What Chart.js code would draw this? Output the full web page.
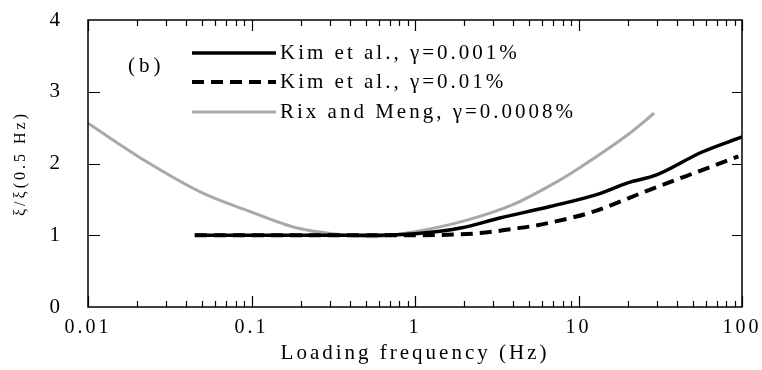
<!DOCTYPE html>
<html>
<head>
<meta charset="utf-8">
<script src="https://cdn.jsdelivr.net/npm/chart.js@4/dist/chart.umd.min.js"></script>
<style>
  html, body { margin: 0; padding: 0; background: #fff; }
  #wrap { width: 762px; height: 370px; }
</style>
</head>
<body>
<div id="wrap"><canvas id="chart" width="762" height="370"></canvas></div>
<script>
// tick marks and labels
const xTickValues = [0.01, 0.1, 1, 10, 100];
const xTickLabels = ['0.01', '0.1', '1', '10', '100'];
const yTickValues = [0, 1, 2, 3, 4];

// Kim et al., gamma = 0.001 %
const kimLowFreq = [0.045, 0.1, 0.3, 0.6, 1.0, 1.9, 3.3, 6.7, 13.5, 20, 30, 57, 100];
const kimLowRatio = [1.0, 1.0, 1.0, 1.0, 1.02, 1.10, 1.24, 1.40, 1.58, 1.73, 1.84, 2.16, 2.37];

// Kim et al., gamma = 0.01 %
const kimHighFreq = [0.045, 0.1, 0.3, 1.0, 2.5, 4.0, 5.3, 9.3, 12, 27, 62, 95];
const kimHighRatio = [1.0, 1.0, 1.0, 1.0, 1.03, 1.09, 1.13, 1.25, 1.32, 1.63, 1.94, 2.10];

// Rix and Meng, gamma = 0.0008 %
const rixFreq = [0.01, 0.023, 0.05, 0.093, 0.19, 0.38, 0.55, 1.0, 2.0, 4.0, 7.7, 10, 20, 29];
const rixRatio = [2.56, 2.02, 1.59, 1.35, 1.10, 1.00, 0.98, 1.05, 1.20, 1.43, 1.77, 1.93, 2.40, 2.70];

const seriesLabels = ['Kim et al., γ=0.001%', 'Kim et al., γ=0.01%', 'Rix and Meng, γ=0.0008%'];

const FONT = '"Liberation Serif", "DejaVu Serif", serif';

function toPoints(xs, ys) {
    return xs.map((x, i) => ({ x: x, y: ys[i] }));
}

// frame round the plot with ticks pointing inward
const framePlugin = {
    id: 'frame',
    beforeDraw(chart) {
        chart.ctx.letterSpacing = '3px';
    },
    afterDatasetsDraw(chart) {
        const { ctx, chartArea: a, scales } = chart;
        ctx.save();
        ctx.strokeStyle = '#000';
        ctx.lineWidth = 1.5;
        ctx.strokeRect(a.left, a.top, a.right - a.left, a.bottom - a.top);
        ctx.lineWidth = 1.2;
        ctx.beginPath();
        for (let d = 0.01; d < 100; d *= 10) {
            for (let m = 1; m <= 10; m++) {
                const x = Math.round(scales.x.getPixelForValue(d * m)) + 0.5;
                const len = (m === 1 || m === 10) ? 11 : 6;
                ctx.moveTo(x, a.bottom); ctx.lineTo(x, a.bottom - len);
                ctx.moveTo(x, a.top); ctx.lineTo(x, a.top + len);
            }
        }
        [1, 2, 3].forEach(v => {
            const y = Math.round(scales.y.getPixelForValue(v)) + 0.5;
            ctx.moveTo(a.left, y); ctx.lineTo(a.left + 12, y);
            ctx.moveTo(a.right, y); ctx.lineTo(a.right - 10, y);
        });
        ctx.stroke();
        ctx.restore();
    },
    afterDraw(chart) {
        const ctx = chart.ctx;
        ctx.save();
        ctx.fillStyle = '#000';
        ctx.textBaseline = 'middle';
        ctx.textAlign = 'left';
        ctx.font = '21px ' + FONT;
        ctx.letterSpacing = '4px';
        ctx.fillText('(b)', 128, 66);
        const rows = [53, 82, 112];
        chart.data.datasets.forEach((ds, i) => {
            const y = rows[i];
            ctx.save();
            ctx.strokeStyle = ds.borderColor;
            ctx.lineWidth = ds.borderWidth;
            ctx.setLineDash(ds.borderDash || []);
            ctx.beginPath();
            ctx.moveTo(192, y);
            ctx.lineTo(276, y);
            ctx.stroke();
            ctx.restore();
            ctx.letterSpacing = '3px';
            ctx.fillText(ds.label, 280, y);
        });
        ctx.restore();
    }
};

const chart = new Chart(document.getElementById('chart'), {
    type: 'line',
    data: {
        datasets: [
            {
                label: seriesLabels[0],
                data: toPoints(kimLowFreq, kimLowRatio),
                borderColor: '#000',
                borderWidth: 3.5,
                order: 1
            },
            {
                label: seriesLabels[1],
                data: toPoints(kimHighFreq, kimHighRatio),
                borderColor: '#000',
                borderWidth: 4,
                borderDash: [12, 7],
                order: 2
            },
            {
                label: seriesLabels[2],
                data: toPoints(rixFreq, rixRatio),
                borderColor: '#a9a9a9',
                borderWidth: 3,
                order: 3
            }
        ]
    },
    options: {
        responsive: false,
        animation: false,
        devicePixelRatio: 1,
        elements: {
            point: { radius: 0 },
            line: { fill: false, cubicInterpolationMode: 'monotone', borderCapStyle: 'butt' }
        },
        layout: { padding: { top: 20, right: 20, left: 0, bottom: 0 } },
        plugins: { legend: { display: false }, tooltip: { enabled: false } },
        scales: {
            x: {
                type: 'logarithmic',
                min: 0.01,
                max: 100,
                grid: { display: false, drawTicks: false },
                border: { display: false },
                afterBuildTicks: s => { s.ticks = xTickValues.map(v => ({ value: v })); },
                afterFit: s => { s.height = 63; s.paddingLeft = 0; s.paddingRight = 0; },
                ticks: {
                    autoSkip: false,
                    maxRotation: 0,
                    padding: 9,
                    color: '#000',
                    font: { family: FONT, size: 20 },
                    callback: v => {
                        const i = xTickValues.indexOf(v);
                        return i < 0 ? '' : xTickLabels[i];
                    }
                },
                title: {
                    display: true,
                    text: 'Loading frequency (Hz)',
                    color: '#000',
                    font: { family: FONT, size: 21 },
                    padding: { top: 0, bottom: 4 }
                }
            },
            y: {
                min: 0,
                max: 4,
                grid: { display: false, drawTicks: false },
                border: { display: false },
                afterBuildTicks: s => { s.ticks = yTickValues.map(v => ({ value: v })); },
                afterFit: s => { s.width = 88; s.paddingTop = 0; s.paddingBottom = 0; },
                ticks: {
                    padding: 25,
                    color: '#000',
                    font: { family: FONT, size: 21 }
                },
                title: {
                    display: true,
                    text: 'ξ/ξ(0.5 Hz)',
                    color: '#000',
                    font: { family: FONT, size: 16 },
                    padding: { top: 11, bottom: 0 }
                }
            }
        }
    },
    plugins: [framePlugin]
});
</script>
</body>
</html>
